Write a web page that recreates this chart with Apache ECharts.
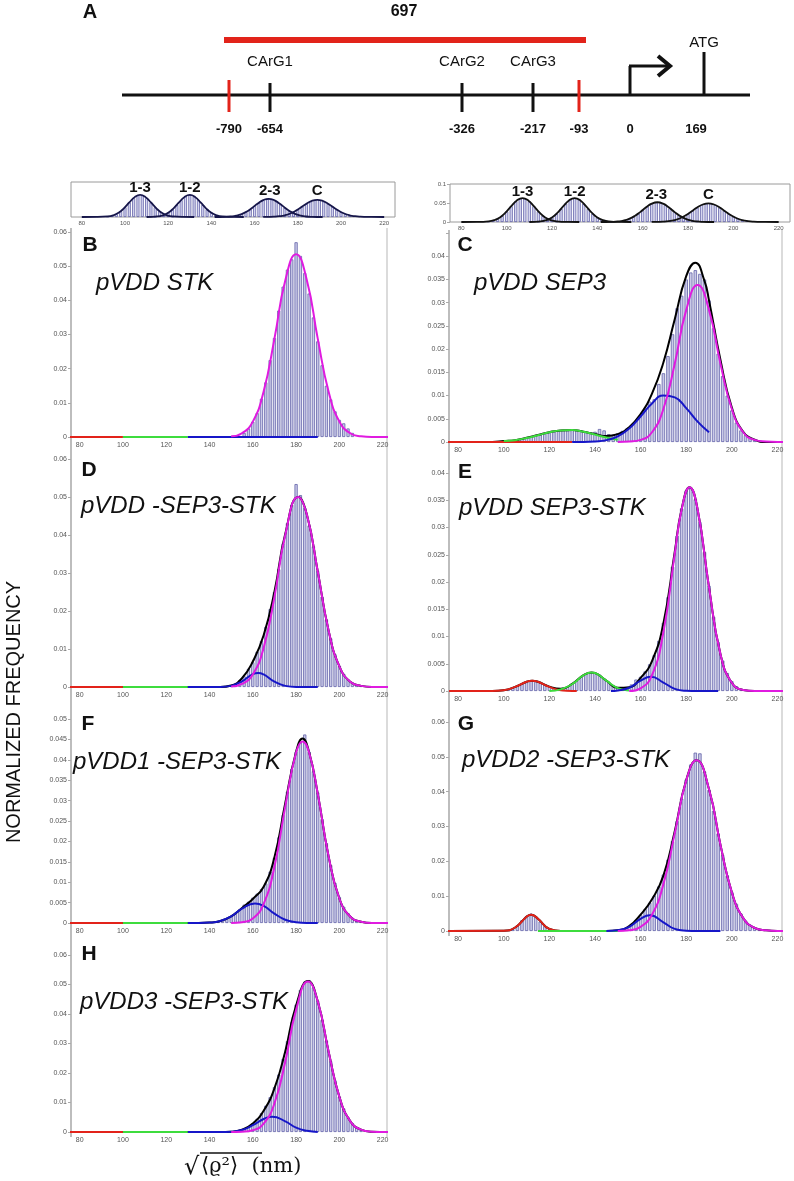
<!DOCTYPE html>
<html>
<head>
<meta charset="utf-8">
<script src="https://cdn.jsdelivr.net/npm/echarts@6/dist/echarts.min.js"></script>
<style>
  html, body { margin: 0; padding: 0; background: #fff; }
  #chart { width: 794px; height: 1181px; }
</style>
</head>
<body>
<div id="chart"></div>
<script>
// histogram bin width (nm)
const BIN = 2

// --- top insets: model peaks 1-3, 1-2, 2-3, C
const g13 = [[80,0],[87,0.0001],[92,0.0015],[94.5,0.0048],[97,0.012],[99.5,0.0249],[102,0.0416],[104.5,0.0568],[107,0.063],[109.5,0.0568],[112,0.0416],[114.5,0.0249],[117,0.012],[119.5,0.0048],[122,0.0015],[127,0.0001],[132,0]]
const g12 = [[110,0],[115,0.0015],[117.5,0.0048],[120,0.012],[122.5,0.0249],[125,0.0416],[127.5,0.0568],[130,0.063],[132.5,0.0568],[135,0.0416],[137.5,0.0249],[140,0.012],[142.5,0.0048],[145,0.0015],[150,0.0001],[155,0]]
const g23 = [[141.5,0],[146.5,0.0005],[149,0.0014],[151.5,0.0036],[154,0.0082],[156.5,0.0159],[159,0.0267],[161.5,0.0387],[164,0.0483],[166.5,0.052],[169,0.0483],[171.5,0.0387],[174,0.0267],[176.5,0.0159],[179,0.0082],[181.5,0.0036],[184,0.0014],[186.5,0.0005],[191.5,0]]
const gC = [[164,0.0001],[166.5,0.0003],[169,0.0008],[171.5,0.0022],[174,0.0049],[176.5,0.0099],[179,0.0176],[181.5,0.0276],[184,0.038],[186.5,0.046],[189,0.049],[191.5,0.046],[194,0.038],[196.5,0.0276],[199,0.0176],[201.5,0.0099],[204,0.0049],[206.5,0.0022],[209,0.0008],[211.5,0.0003],[214,0.0001],[220,0]]
const peakNames = ['1-3', '1-2', '2-3', 'C']
const h13_0 = 92, h13 = [0.0015,0.0038,0.0085,0.0165,0.028,0.0416,0.0543,0.062,0.062,0.0543,0.0416,0.028,0.0165,0.0085,0.0038,0.0015]
const h12_0 = 114, h12 = [0.0009,0.0025,0.0058,0.012,0.0219,0.0348,0.0484,0.059,0.063,0.059,0.0484,0.0348,0.0219,0.012,0.0058,0.0025,0.0009]
const h23_0 = 150, h23 = [0.0021,0.0043,0.0082,0.0142,0.0221,0.0316,0.0409,0.0483,0.0518,0.0506,0.045,0.0363,0.0267,0.0179,0.0109,0.006,0.003,0.0014]
const hC_0 = 172, hC = [0.0025,0.0049,0.0087,0.0143,0.0214,0.0297,0.038,0.0447,0.0485,0.0485,0.0447,0.038,0.0297,0.0214,0.0143,0.0087,0.0049,0.0025]

// --- B  pVDD STK
const histB0 = 156
const histB = [0.0012,0.0025,0.0045,0.007,0.0112,0.016,0.0225,0.029,0.037,0.044,0.049,0.052,0.057,0.053,0.048,0.042,0.035,0.028,0.021,0.015,0.011,0.0075,0.005,0.004,0.0025,0.0012]
const redB = [[75,0],[100,0]]
const greenB = [[100,0],[130,0]]
const blueB = [[130,0],[190,0]]
const magB = [[150,0.0002],[155,0.0011],[160,0.0045],[165,0.0133],[170,0.0288],[175,0.0458],[180,0.0535],[185,0.0458],[190,0.0288],[195,0.0133],[200,0.0045],[205,0.0011],[210,0.0002],[215,0],[225,0]]

// --- C  pVDD SEP3
const histC0 = 104
const histC = [0.0003,0.0005,0.0007,0.001,0.0011,0.0014,0.0016,0.0019,0.0021,0.0023,0.0024,0.0026,0.0025,0.0027,0.0025,0.0024,0.0022,0.0021,0.0022,0.0028,0.0025,0.0017,0.0016,0.0019,0.0024,0.0029,0.0036,0.0046,0.0058,0.0072,0.0087,0.0092,0.0125,0.0148,0.0185,0.0232,0.0288,0.0315,0.035,0.0365,0.037,0.0362,0.035,0.0305,0.0245,0.019,0.0142,0.01,0.0068,0.0042,0.0025,0.0015,0.0008,0.0004]
const blackC = [[75,0],[95,0],[100,0.0002],[105,0.0004],[110,0.0009],[115,0.0015],[120,0.0021],[125,0.0025],[130,0.0026],[135,0.0022],[140,0.0017],[145,0.0013],[150,0.0017],[155,0.0032],[160,0.006],[165,0.0104],[170,0.0171],[175,0.0265],[180,0.0357],[184,0.0386],[188,0.0347],[190,0.0305],[195,0.0177],[200,0.0074],[205,0.0022],[210,0.0005],[215,0],[225,0]]
const redC = [[75,0],[130,0]]
const greenC = [[100,0.0002],[105,0.0004],[110,0.00085],[115,0.00145],[120,0.0021],[125,0.0025],[130,0.00256],[135,0.0022],[140,0.0016],[145,0.00095],[150,0.00048]]
const blueC = [[130,0],[135,0],[140,0.0001],[145,0.0004],[150,0.0012],[155,0.0029],[160,0.0055],[165,0.0083],[170,0.01],[175,0.0096],[180,0.0073],[185,0.0044],[190,0.0021]]
const magC = [[150,0],[155,0.0001],[160,0.00045],[165,0.0021],[170,0.0071],[175,0.0169],[180,0.0284],[185,0.0338],[190,0.0284],[195,0.0169],[200,0.0071],[205,0.0021],[210,0.00045],[215,0.0001],[220,0],[225,0]]

// --- D  pVDD -SEP3-STK
const histD0 = 150
const histD = [0.0005,0.0009,0.0018,0.0028,0.0048,0.0065,0.0093,0.0121,0.0158,0.0205,0.025,0.031,0.0378,0.0431,0.048,0.0534,0.0505,0.0472,0.0425,0.037,0.0305,0.0238,0.0178,0.0128,0.0086,0.0056,0.0035,0.002,0.0012,0.0006,0.0003]
const blackD = [[75,0],[140,0],[145,0],[150,0.0004],[155,0.0023],[160,0.0067],[165,0.0136],[170,0.0251],[175,0.0403],[181,0.05],[185,0.0453],[190,0.0304],[195,0.0149],[200,0.0054],[205,0.0014],[210,0.0003],[215,0],[225,0]]
const redD = [[75,0],[100,0]]
const greenD = [[100,0],[130,0]]
const blueD = [[130,0],[140,0],[145,0],[150,0.0003],[155,0.0015],[160,0.0034],[162.5,0.0037],[165,0.0033],[170,0.0014],[175,0.0003],[180,0],[190,0]]
const magD = [[150,0.0001],[155,0.0008],[160,0.0033],[165,0.0103],[170,0.0237],[175,0.04],[181,0.05],[185,0.0453],[190,0.0304],[195,0.0149],[200,0.0054],[205,0.0014],[210,0.0003],[215,0],[225,0]]

// --- E  pVDD SEP3-STK
const histE0 = 100
const histE = [0.0002,0.0003,0.0006,0.0009,0.0013,0.0016,0.0019,0.0018,0.0015,0.0012,0.0008,0.0005,0.0004,0.0006,0.0008,0.0013,0.0019,0.0026,0.0031,0.0034,0.0033,0.003,0.0023,0.0017,0.0011,0.0007,0.0006,0.0007,0.0012,0.0021,0.0026,0.0036,0.0049,0.0066,0.0092,0.0125,0.0172,0.0228,0.0285,0.0335,0.0368,0.0372,0.0352,0.031,0.0255,0.0193,0.0136,0.009,0.0056,0.0033,0.0018,0.0009,0.0004,0.0002]
const blackE = [[76,0],[95,0],[100,0.00014],[105,0.00075],[110,0.0017],[112.5,0.0019],[115,0.0017],[120,0.0008],[125,0.0004],[130,0.0013],[135,0.0029],[138.5,0.0034],[140,0.0033],[145,0.0019],[150,0.0006],[155,0.0007],[160,0.0024],[165,0.0055],[170,0.0124],[175,0.0256],[178,0.0334],[181.5,0.0374],[185,0.0333],[190,0.019],[195,0.0068],[200,0.0015],[205,0.0002],[210,0],[225,0]]
const redE = [[76,0],[95,0],[100,0.00014],[105,0.00075],[110,0.0017],[112.5,0.0019],[115,0.0017],[120,0.00075],[125,0.00014],[130,0],[132,0]]
const greenE = [[120,0],[125,0.0003],[130,0.00125],[135,0.0029],[138.5,0.0034],[140,0.0033],[145,0.0019],[150,0.00054],[155,0.0001]]
const blueE = [[147,0],[150,0.0001],[155,0.0006],[160,0.0019],[164.5,0.0026],[170,0.00155],[175,0.0004],[180,0.00005],[185,0],[194,0]]
const magE = [[155,0],[160,0.0005],[165,0.0029],[170,0.0108],[175,0.0252],[178,0.0333],[181.5,0.0374],[185,0.0333],[190,0.019],[195,0.0068],[200,0.0015],[205,0.0002],[210,0],[225,0]]

// --- F  pVDD1 -SEP3-STK
const histF0 = 144
const histF = [0.0004,0.0007,0.0012,0.0017,0.0025,0.0033,0.0045,0.0052,0.0062,0.0072,0.0083,0.0097,0.0126,0.016,0.021,0.0265,0.0322,0.0378,0.042,0.0442,0.0462,0.042,0.0372,0.032,0.0255,0.0196,0.0142,0.0098,0.0064,0.004,0.0024,0.0013,0.0007,0.0003]
const blackF = [[75,0],[135,0],[140,0.0001],[145,0.0005],[150,0.0016],[155,0.0037],[160,0.0059],[165,0.0089],[170,0.0161],[175,0.0294],[180,0.042],[183,0.0452],[186,0.0419],[190,0.0317],[195,0.0164],[200,0.006],[205,0.0016],[210,0.0003],[215,0],[225,0]]
const redF = [[75,0],[100,0]]
const greenF = [[100,0],[130,0]]
const blueF = [[130,0],[135,0],[140,0.0001],[145,0.0005],[150,0.0016],[155,0.0035],[161,0.0048],[165,0.0042],[170,0.0023],[175,0.0008],[180,0.0002],[185,0],[190,0]]
const magF = [[150,0],[155,0.0002],[160,0.0011],[165,0.0047],[170,0.0138],[175,0.0286],[180,0.0418],[183,0.0445],[186,0.0418],[190,0.0317],[195,0.0164],[200,0.006],[205,0.0016],[210,0.0003],[215,0],[225,0]]

// --- G  pVDD2 -SEP3-STK
const histGa0 = 104
const histGa = [0.0005,0.0014,0.0031,0.0043,0.005,0.0042,0.0027,0.0014,0.0005]
const histGb0 = 150
const histGb = [0.0003,0.0005,0.0011,0.002,0.0031,0.0046,0.0063,0.0081,0.0102,0.0128,0.0162,0.0205,0.0258,0.0316,0.038,0.0435,0.0478,0.0512,0.051,0.0458,0.0405,0.0345,0.028,0.0218,0.016,0.0112,0.0078,0.005,0.003,0.0018,0.001,0.0005]
const blackG = [[75,0],[100,0.0001],[105,0.001],[110,0.0041],[112,0.0047],[115,0.0035],[120,0.0006],[125,0],[145,0],[150,0.0002],[155,0.0014],[160,0.0047],[165,0.0091],[170,0.0159],[175,0.0287],[180,0.0433],[184.5,0.049],[190,0.0407],[195,0.0248],[200,0.0111],[205,0.0037],[210,0.0009],[215,0.0002],[220,0],[225,0]]
const redG = [[75,0],[100,0.0001],[105,0.001],[110,0.0041],[112,0.0047],[115,0.0035],[120,0.0006],[125,0],[130,0]]
const greenG = [[115,0],[150,0]]
const blueG = [[145,0],[150,0.0002],[155,0.0012],[160,0.0035],[164,0.0045],[170,0.0025],[175,0.0006],[180,0.0001],[185,0],[195,0]]
const magG = [[150,0],[155,0.0002],[160,0.0012],[165,0.0047],[170,0.0134],[175,0.0281],[180,0.0432],[184.5,0.049],[190,0.0407],[195,0.0248],[200,0.0111],[205,0.0037],[210,0.0009],[215,0.0002],[220,0],[225,0]]

// --- H  pVDD3 -SEP3-STK
const histH0 = 150
const histH = [0.0002,0.0003,0.0006,0.0011,0.0018,0.003,0.0045,0.0064,0.0089,0.0118,0.0152,0.0195,0.0248,0.0308,0.0372,0.0432,0.0482,0.051,0.0515,0.049,0.0445,0.038,0.031,0.024,0.0175,0.012,0.008,0.005,0.003,0.0016,0.0009]
const blackH = [[75,0],[145,0],[150,0.0001],[155,0.0008],[160,0.0029],[165,0.0072],[170,0.0148],[175,0.0274],[180,0.0429],[185.5,0.0512],[190,0.0443],[195,0.0273],[200,0.0119],[205,0.0037],[210,0.0008],[215,0.0001],[225,0]]
const redH = [[75,0],[100,0]]
const greenH = [[100,0],[130,0]]
const blueH = [[130,0],[145,0],[150,0.0001],[155,0.0007],[160,0.0023],[165,0.0044],[169,0.0052],[175,0.0036],[180,0.0015],[185,0.0004],[190,0]]
const magH = [[150,0],[155,0.0001],[160,0.0006],[165,0.0028],[170,0.0097],[175,0.0238],[180,0.0414],[185.5,0.051],[190,0.0443],[195,0.0273],[200,0.0119],[205,0.0037],[210,0.0008],[215,0.0001],[220,0],[225,0]]

// --- panel A promoter map
const sitePos = ['-790', '-654', '-326', '-217', '-93', '0', '169']
const siteNames = ['CArG1', 'CArG2', 'CArG3']
const fragmentLen = '697'

const RED = '#e2231a', GREEN = '#3ddc3d', BLUE = '#1616c8', MAG = '#e01be0'
const FONT = '"Liberation Sans", Arial, sans-serif'

const chart = echarts.init(document.getElementById('chart'))

// grid index: 0 insetL, 1 insetR, 2 B, 3 C, 4 D, 5 E, 6 F, 7 G, 8 H
const grids = [
  { left: 71, top: 182, width: 324, height: 35, show: true, borderColor: '#9a9a9a', borderWidth: 1 },
  { left: 450, top: 184, width: 340, height: 38, show: true, borderColor: '#9a9a9a', borderWidth: 1 },
  { left: 71, top: 232, width: 316, height: 205 },
  { left: 449, top: 233, width: 333, height: 209 },
  { left: 71, top: 459, width: 316, height: 228 },
  { left: 449, top: 473, width: 333, height: 218 },
  { left: 71, top: 719, width: 316, height: 204 },
  { left: 449, top: 722, width: 333, height: 209 },
  { left: 71, top: 955, width: 316, height: 177 }
]
const yMax = [0.1, 0.1, 0.06, 0.045, 0.06, 0.04, 0.05, 0.06, 0.06]
const yStep = [0.05, 0.05, 0.01, 0.005, 0.01, 0.005, 0.005, 0.01, 0.01]

const xAxes = grids.map((g, i) => ({
  gridIndex: i,
  type: 'value',
  min: i < 2 ? 75 : 76,
  max: i < 2 ? 225 : 222,
  splitNumber: 7,
  axisLine: { show: false },
  axisTick: { show: false },
  splitLine: { show: false },
  axisLabel: {
    fontSize: i < 2 ? 6 : 7, color: '#555', margin: i < 2 ? 3 : 5, fontFamily: FONT,
    formatter: v => (v % 20 === 0 ? String(v) : '')
  }
}))
const yAxes = grids.map((g, i) => ({
  gridIndex: i,
  type: 'value',
  min: 0,
  max: yMax[i],
  interval: yStep[i],
  axisLine: { show: false },
  axisTick: { show: i !== 0, length: 3, lineStyle: { color: '#aaa' } },
  splitLine: { show: false },
  axisLabel: {
    show: i !== 0,
    fontSize: i < 2 ? 6 : 7, color: '#555', margin: 4, fontFamily: FONT,
    formatter: v => (i === 3 && v > 0.0401 ? '' : String(+v.toFixed(3)))
  }
}))

const series = []
function curve(g, data, color, width, z) {
  series.push({
    type: 'line', xAxisIndex: g, yAxisIndex: g, data: data,
    smooth: 0.5, symbol: 'none', clip: false,
    lineStyle: { color: color, width: width }, z: z, silent: true
  })
}
function hist(g, x0, vals, bw, light) {
  series.push({
    type: 'bar', xAxisIndex: g, yAxisIndex: g,
    data: vals.map((v, k) => [x0 + k * BIN, v]),
    barWidth: bw, barGap: '-100%',
    itemStyle: { color: light ? '#d6d6f0' : '#cacae8', borderColor: '#6262a8', borderWidth: 0.8 },
    z: 1, silent: true
  })
}

// insets
;[0, 1].forEach(g => {
  const bw = g === 0 ? 3 : 3.2
  hist(g, h13_0, h13, bw, true)
  hist(g, h12_0, h12, bw, true)
  hist(g, h23_0, h23, bw, true)
  hist(g, hC_0, hC, bw, true)
  const col = g === 0 ? '#16164a' : '#111'
  ;[g13, g12, g23, gC].forEach(d => curve(g, d, col, 1.8, 3))
})

const panels = [
  { g: 2, hists: [[histB0, histB]], black: null, red: redB, green: greenB, blue: blueB, mag: magB },
  { g: 3, hists: [[histC0, histC]], black: blackC, red: redC, green: greenC, blue: blueC, mag: magC },
  { g: 4, hists: [[histD0, histD]], black: blackD, red: redD, green: greenD, blue: blueD, mag: magD },
  { g: 5, hists: [[histE0, histE]], black: blackE, red: redE, green: greenE, blue: blueE, mag: magE },
  { g: 6, hists: [[histF0, histF]], black: blackF, red: redF, green: greenF, blue: blueF, mag: magF },
  { g: 7, hists: [[histGa0, histGa], [histGb0, histGb]], black: blackG, red: redG, green: greenG, blue: blueG, mag: magG },
  { g: 8, hists: [[histH0, histH]], black: blackH, red: redH, green: greenH, blue: blueH, mag: magH }
]
panels.forEach(p => {
  const bw = p.g % 2 === 0 ? 3.2 : 3.4
  p.hists.forEach(h => hist(p.g, h[0], h[1], bw))
  if (p.black) curve(p.g, p.black, '#000', 2, 3)
  curve(p.g, p.red, RED, 2, 4)
  curve(p.g, p.green, GREEN, 2, 5)
  curve(p.g, p.blue, BLUE, 2, 6)
  curve(p.g, p.mag, MAG, 2, 7)
})

// static text / schematic
const graphic = []
function text(x, y, t, font, extra) {
  graphic.push({
    type: 'text', x: x, y: y,
    style: Object.assign({ text: t, font: font, fill: '#111', textAlign: 'center', textVerticalAlign: 'middle' }, extra || {})
  })
}
function seg(x1, y1, x2, y2, color, w) {
  graphic.push({ type: 'line', shape: { x1: x1, y1: y1, x2: x2, y2: y2 }, style: { stroke: color, lineWidth: w } })
}

// column frame lines
seg(71, 228, 71, 1137, '#bdbdbd', 2)
seg(387, 228, 387, 1137, '#cfcfcf', 1.5)
seg(449, 230, 449, 936, '#bdbdbd', 2)
seg(782, 230, 782, 936, '#cfcfcf', 1.5)

// inset peak labels
const insetLabelPos = [[107, 130, 167, 189], [107, 130, 166, 189]]
peakNames.forEach((n, k) => {
  const xl = 71 + (insetLabelPos[0][k] - 75) / 150 * 324
  const xr = 450 + (insetLabelPos[1][k] - 75) / 150 * 340
  text(xl, k < 2 ? 188 : 191, n, 'bold 15px ' + FONT)
  text(xr, k < 2 ? 192 : 195, n, 'bold 15px ' + FONT)
})

// panel letters and construct names
const letters = [['B', 90, 245], ['C', 465, 245], ['D', 89, 470], ['E', 465, 472], ['F', 88, 724], ['G', 466, 724], ['H', 89, 954]]
letters.forEach(l => text(l[1], l[2], l[0], 'bold 21px ' + FONT))
const names = [['pVDD STK', 96, 283], ['pVDD SEP3', 474, 283], ['pVDD -SEP3-STK', 81, 506], ['pVDD SEP3-STK', 459, 508],
  ['pVDD1 -SEP3-STK', 73, 762], ['pVDD2 -SEP3-STK', 462, 760], ['pVDD3 -SEP3-STK', 80, 1002]]
names.forEach(n => text(n[1], n[2], n[0], 'italic 24px ' + FONT, { textAlign: 'left' }))

text(14, 712, 'NORMALIZED FREQUENCY', '20px ' + FONT)
graphic[graphic.length - 1].rotation = Math.PI / 2
// x axis title: radical with overbar
text(184, 1168, '\u221A', '24px "DejaVu Serif", serif', { textAlign: 'left' })
seg(200, 1153, 262, 1153, '#111', 1.3)
text(201, 1167, '\u27E8\u03F1\u00B2\u27E9  (nm)', '21px "DejaVu Serif", serif', { textAlign: 'left' })

// panel A
text(90, 12, 'A', 'bold 20px ' + FONT)
text(404, 12, fragmentLen, 'bold 16px ' + FONT)
seg(224, 40, 586, 40, RED, 6)
seg(122, 95, 750, 95, '#111', 3)
const tickX = [229, 270, 462, 533, 579, 630, 704]
const tickRed = [true, false, false, false, true, false, false]
tickX.forEach((x, k) => {
  if (k === 5) return
  if (k === 6) { seg(x, 52, x, 95, '#111', 3); return }
  seg(x, tickRed[k] ? 80 : 83, x, 112, tickRed[k] ? RED : '#111', 3)
})
sitePos.forEach((s, k) => text(tickX[k] + (k === 6 ? -8 : 0), 129, s, 'bold 13px ' + FONT))
siteNames.forEach((s, k) => text(tickX[k + 1], 62, s, '15px ' + FONT))
text(tickX[6], 43, 'ATG', '15px ' + FONT)
// transcription start arrow
seg(630, 96, 630, 66, '#111', 3)
seg(629, 66, 668, 66, '#111', 3)
graphic.push({ type: 'polyline', shape: { points: [[658, 56], [670, 66], [658, 76]] }, style: { fill: 'none', stroke: '#111', lineWidth: 4 } })

chart.setOption({
  animation: false,
  grid: grids,
  xAxis: xAxes,
  yAxis: yAxes,
  series: series,
  graphic: graphic
})
</script>
</body>
</html>
